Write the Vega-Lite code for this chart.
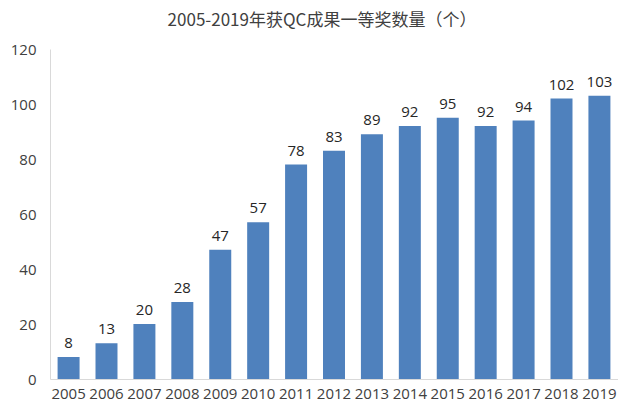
{
  "$schema": "https://vega.github.io/schema/vega-lite/v6.json",
  "width": 568,
  "height": 330,
  "autosize": "none",
  "padding": {"left": 50, "top": 49, "right": 0, "bottom": 26},
  "background": "white",
  "title": {
    "text": "2005-2019年获QC成果一等奖数量（个）",
    "font": "Noto Sans CJK SC",
    "fontSize": 17,
    "fontWeight": "normal",
    "color": "#404040",
    "anchor": "middle",
    "offset": 12,
    "dx": -12
  },
  "data": {
    "values": [
      {"year": "2005", "count": 8},
      {"year": "2006", "count": 13},
      {"year": "2007", "count": 20},
      {"year": "2008", "count": 28},
      {"year": "2009", "count": 47},
      {"year": "2010", "count": 57},
      {"year": "2011", "count": 78},
      {"year": "2012", "count": 83},
      {"year": "2013", "count": 89},
      {"year": "2014", "count": 92},
      {"year": "2015", "count": 95},
      {"year": "2016", "count": 92},
      {"year": "2017", "count": 94},
      {"year": "2018", "count": 102},
      {"year": "2019", "count": 103}
    ]
  },
  "config": {
    "view": {"stroke": null},
    "axis": {"labelFont": "Open Sans", "labelFontSize": 15, "labelColor": "#404040", "grid": false, "ticks": false, "title": null, "domainColor": "#d9d9d9"}
  },
  "encoding": {
    "x": {"field": "year", "type": "ordinal", "scale": {"paddingInner": 0.42, "paddingOuter": 0.2}, "axis": {"labelAngle": 0, "labelPadding": 7, "labelOverlap": false}},
    "y": {"field": "count", "type": "quantitative", "scale": {"domain": [0, 120]}, "axis": {"values": [0, 20, 40, 60, 80, 100, 120], "labelPadding": 14, "domain": true}}
  },
  "layer": [
    {"mark": {"type": "bar", "color": "#4F81BD"}},
    {"mark": {"type": "text", "baseline": "bottom", "dy": -6, "font": "Open Sans", "fontSize": 15, "color": "#262626"}, "encoding": {"text": {"field": "count", "type": "quantitative"}}}
  ]
}
